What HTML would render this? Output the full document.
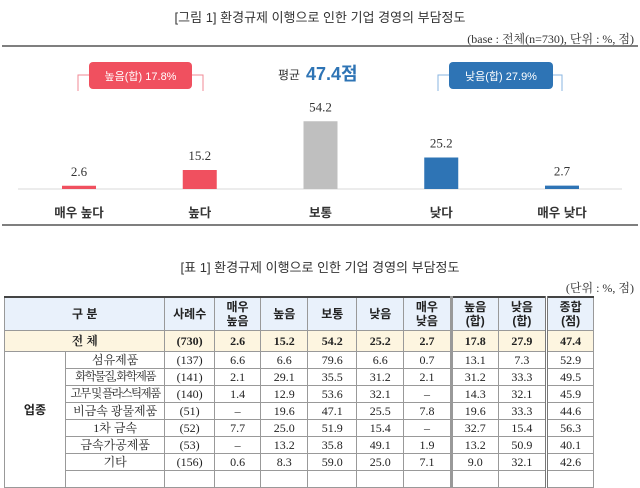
<!DOCTYPE html>
<html><head><meta charset="utf-8"><style>
body{margin:0;width:640px;height:477px;overflow:hidden;background:#fff;font-family:"Liberation Serif","Noto Serif CJK SC","Noto Sans CJK KR",serif;}
.t{position:absolute;font-family:"Liberation Sans","Noto Sans CJK KR",sans-serif;color:#333;}
table{position:absolute;left:4px;top:296px;border-collapse:collapse;table-layout:fixed;font-size:12px;color:#222;}
td{border:1px solid #999;text-align:center;padding:0;height:16px;line-height:16px;white-space:nowrap;overflow:hidden;}
tr.h td{height:32px;line-height:14px;background:#e9f1fb;font-family:"Liberation Sans","Noto Sans CJK KR",sans-serif;font-weight:bold;font-size:12px;border-top:2px solid #444;}
tr.tot td{background:#fdf5e0;font-weight:bold;height:20px;line-height:20px;}
.thick{border-left:3px solid #999;}
.dbl{border-left:3px double #777;}
.n{letter-spacing:-1.5px;font-size:11.5px;}
</style></head><body>
<div class="t" style="left:0;width:640px;top:7px;text-align:center;font-size:13px;">[그림 1] 환경규제 이행으로 인한 기업 경영의 부담정도</div>
<div class="t" style="right:6px;top:30px;font-size:12px;font-family:'Liberation Serif','Noto Serif CJK SC',serif;">(base : 전체(n=730), 단위 : %, 점)</div>
<svg id="chart" style="position:absolute;left:0;top:0" width="640" height="240"></svg>
<div class="t" style="left:0;width:640px;top:257px;text-align:center;font-size:13px;">[표 1] 환경규제 이행으로 인한 기업 경영의 부담정도</div>
<div class="t" style="right:6px;top:279px;font-size:12px;font-family:'Liberation Serif','Noto Serif CJK SC',serif;">(단위 : %, 점)</div>
<table>
<colgroup><col style="width:67px"><col style="width:101px"><col style="width:52px"><col style="width:50px"><col style="width:51px"><col style="width:53px"><col style="width:51px"><col style="width:51px"><col style="width:51px"><col style="width:52px"><col style="width:51px"><col style="width:53px"></colgroup>
<tr class="h"><td colspan="2">구 분</td><td>사례수</td><td>매우<br>높음</td><td>높음</td><td>보통</td><td>낮음</td><td>매우<br>낮음</td><td class="thick">높음<br>(합)</td><td>낮음<br>(합)</td><td class="dbl">종합<br>(점)</td></tr>
<tr class="tot"><td colspan="2">전 체</td><td>(730)</td><td>2.6</td><td>15.2</td><td>54.2</td><td>25.2</td><td>2.7</td><td class="thick">17.8</td><td>27.9</td><td class="dbl">47.4</td></tr>
<tr><td rowspan="8" style="font-weight:bold;font-family:'Liberation Sans','Noto Sans CJK KR',sans-serif;vertical-align:top;padding-top:50px">업종</td><td>섬유제품</td><td>(137)</td><td>6.6</td><td>6.6</td><td>79.6</td><td>6.6</td><td>0.7</td><td class="thick">13.1</td><td>7.3</td><td class="dbl">52.9</td></tr>
<tr><td class="n">화학물질, 화학제품</td><td>(141)</td><td>2.1</td><td>29.1</td><td>35.5</td><td>31.2</td><td>2.1</td><td class="thick">31.2</td><td>33.3</td><td class="dbl">49.5</td></tr>
<tr><td class="n">고무 및 플라스틱제품</td><td>(140)</td><td>1.4</td><td>12.9</td><td>53.6</td><td>32.1</td><td>–</td><td class="thick">14.3</td><td>32.1</td><td class="dbl">45.9</td></tr>
<tr><td>비금속 광물제품</td><td>(51)</td><td>–</td><td>19.6</td><td>47.1</td><td>25.5</td><td>7.8</td><td class="thick">19.6</td><td>33.3</td><td class="dbl">44.6</td></tr>
<tr><td>1차 금속</td><td>(52)</td><td>7.7</td><td>25.0</td><td>51.9</td><td>15.4</td><td>–</td><td class="thick">32.7</td><td>15.4</td><td class="dbl">56.3</td></tr>
<tr><td>금속가공제품</td><td>(53)</td><td>–</td><td>13.2</td><td>35.8</td><td>49.1</td><td>1.9</td><td class="thick">13.2</td><td>50.9</td><td class="dbl">40.1</td></tr>
<tr><td>기타</td><td>(156)</td><td>0.6</td><td>8.3</td><td>59.0</td><td>25.0</td><td>7.1</td><td class="thick">9.0</td><td>32.1</td><td class="dbl">42.6</td></tr>
<tr><td>&nbsp;</td><td></td><td></td><td></td><td></td><td></td><td></td><td class="thick"></td><td></td><td class="dbl"></td></tr>
</table>
<script>
const categories=["매우 높다","높다","보통","낮다","매우 낮다"];
const values=[2.6,15.2,54.2,25.2,2.7];
const colors=["#f0505f","#f0505f","#bfbfbf","#2e74b5","#2e74b5"];
const NS="http://www.w3.org/2000/svg";
const svg=document.getElementById("chart");
const base=189, scale=1.25, x0=79, step=120.75, bw=34;
const xs=i=>x0+i*step;
const ys=v=>base-v*scale;
function mk(t,a){const e=document.createElementNS(NS,t);for(const k in a)e.setAttribute(k,a[k]);svg.appendChild(e);return e;}
let l=mk("line",{x1:2,x2:638,y1:46,y2:46,stroke:"#555","stroke-width":1.5});


l=mk("line",{x1:2,x2:638,y1:225,y2:225,stroke:"#555","stroke-width":1.5});


l=mk("line",{x1:18,x2:622,y1:base,y2:base,stroke:"#d9d9d9","stroke-width":1});


function bracket(x1,x2,col,name){
 const p=mk("path",{d:`M${x1} 91 V75 H${x2} V91`,fill:"none",stroke:col,"stroke-width":1});
 
 
}
bracket(78,203,"#f08a94","high-bracket");
bracket(438,562,"#8ab4e0","low-bracket");
function box(x,w,col,txt,name){
 const r=mk("rect",{x:x,y:62,width:w,height:27,rx:4,fill:col});
 
 
 const t=mk("text",{x:x+w/2,y:80,"text-anchor":"middle",fill:"#fff","font-size":11,"font-family":"Liberation Sans, Noto Sans CJK KR, sans-serif"});
 t.textContent=txt;
 
 
}
box(89,103,"#f0505f","높음(합) 17.8%","high-sum-box");
box(449,104,"#2e74b5","낮음(합) 27.9%","low-sum-box");
let m=mk("text",{x:278,y:79,"font-size":12,fill:"#333","font-family":"Liberation Sans, Noto Sans CJK KR, sans-serif"});
m.textContent="평균";


m=mk("text",{x:306,y:80,"font-size":18,"font-weight":"bold",fill:"#2e74b5","font-family":"Liberation Sans, Noto Sans CJK KR, sans-serif"});
m.textContent="47.4점";


values.forEach((v,i)=>{
 const r=mk("rect",{x:xs(i)-bw/2,y:ys(v),width:bw,height:base-ys(v),fill:colors[i]});
 
 
 const t=mk("text",{x:xs(i),y:ys(v)-10,"text-anchor":"middle","font-size":13,fill:"#333","font-family":"Liberation Serif, serif"});
 t.textContent=v.toFixed(1);
 
 
 const c=mk("text",{x:xs(i),y:217,"text-anchor":"middle","font-size":12.5,"font-weight":"bold",fill:"#333","font-family":"Liberation Sans, Noto Sans CJK KR, sans-serif"});
 c.textContent=categories[i];
 
 
});
</script>
</body></html>
